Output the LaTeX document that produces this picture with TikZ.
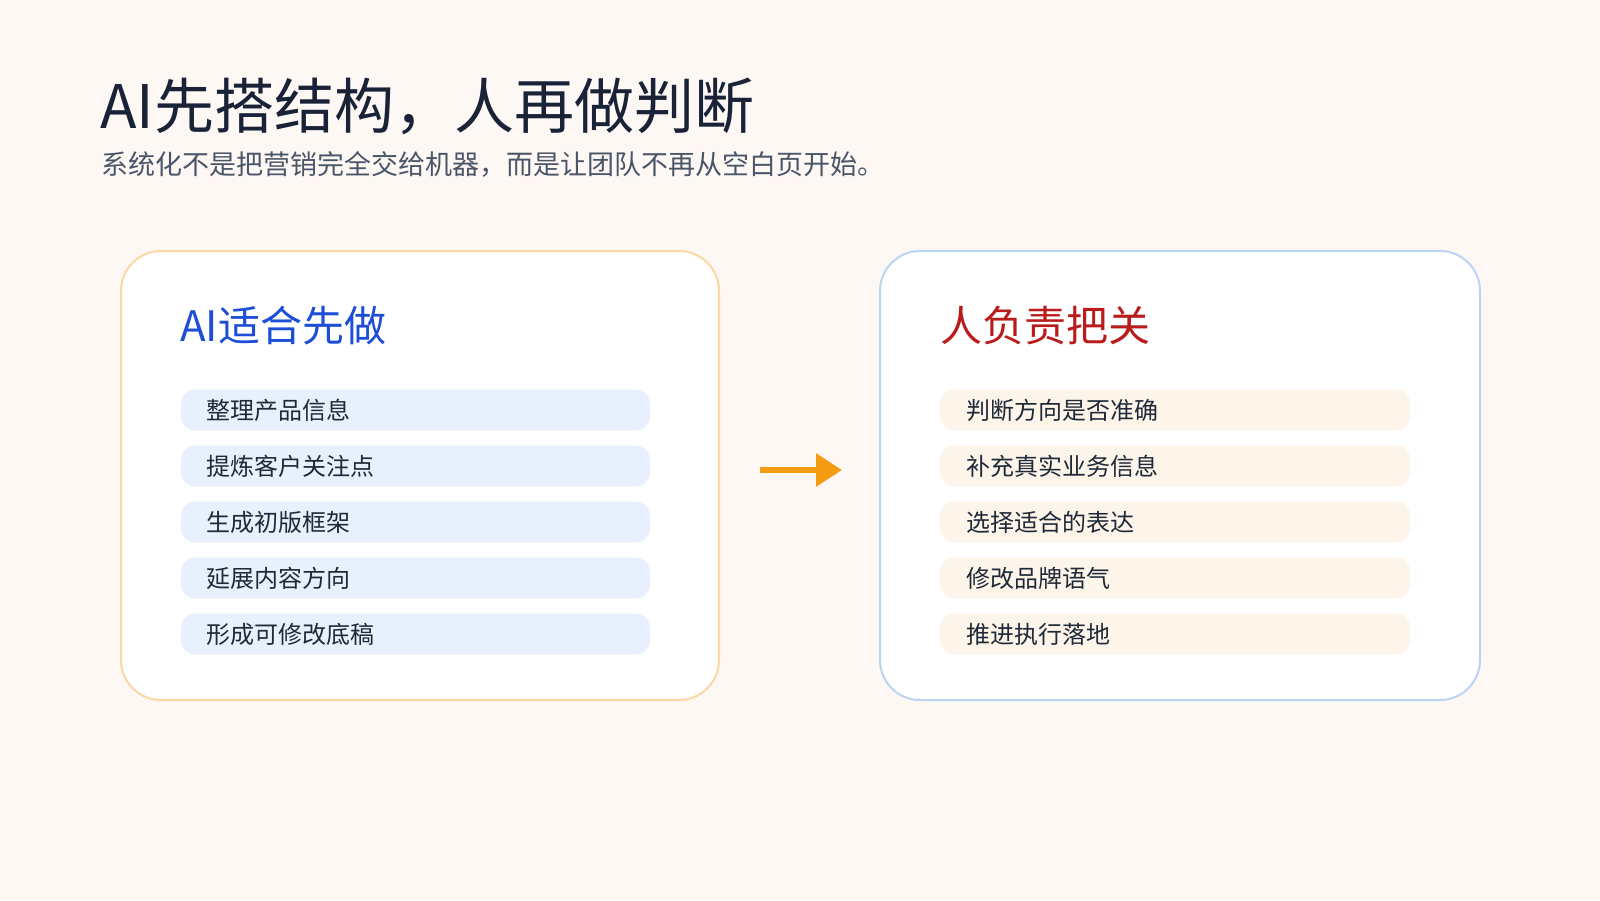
\documentclass[tikz,border=0pt]{standalone}
\usepackage{fontspec}
\setmainfont{Noto Sans CJK SC}
\usetikzlibrary{arrows.meta}
\definecolor{bg}{HTML}{FDF8F4}
\definecolor{ttl}{HTML}{1A2238}
\definecolor{sub}{HTML}{4A5568}
\definecolor{obrd}{HTML}{FCD6A4}
\definecolor{bbrd}{HTML}{BCD4F4}
\definecolor{hblue}{HTML}{1D4ED8}
\definecolor{hred}{HTML}{B91C1C}
\definecolor{pblue}{HTML}{E8F0FD}
\definecolor{porg}{HTML}{FDF4EA}
\definecolor{itxt}{HTML}{1F2937}
\definecolor{arr}{HTML}{F39C12}
\tikzset{
 card/.style={draw=#1,line width=1pt,fill=white,rounded corners=20pt},
 pill/.style={fill=#1,rounded corners=7pt},
 item/.style={anchor=west,text=itxt,font=\fontsize{12}{14}\selectfont,inner sep=0},
 head/.style={anchor=west,text=#1,font=\fontsize{21}{25}\selectfont,inner sep=0}
}
\begin{document}
\begin{tikzpicture}[x=0.5pt,y=-0.5pt]
\fill[bg] (0,0) rectangle (1600,900);
\useasboundingbox (0,0) rectangle (1600,900);
\node[anchor=base west,inner sep=0,text=ttl,font=\fontsize{30}{34}\selectfont] (title) at (100,128) {AI先搭结构，人再做判断};
\node[anchor=base west,inner sep=0,text=sub,font=\fontsize{13.5}{16}\selectfont] (subt) at (101,174) {系统化不是把营销完全交给机器，而是让团队不再从空白页开始。};
\draw[card=obrd] (121,251) rectangle (719,700);
\draw[card=bbrd] (880,251) rectangle (1480,700);
\node[head=hblue] (hl) at (180,326) {AI适合先做};
\node[head=hred] (hr) at (940,326) {人负责把关};
\foreach \t [count=\i] in {整理产品信息,提炼客户关注点,生成初版框架,延展内容方向,形成可修改底稿}{
  \pgfmathsetmacro\yy{410+56*(\i-1)}
  \fill[pill=pblue] (181,\yy-20.5) rectangle (650,\yy+20.5);
  \node[item] (l\i) at (206,\yy) {\t};
}
\foreach \t [count=\i] in {判断方向是否准确,补充真实业务信息,选择适合的表达,修改品牌语气,推进执行落地}{
  \pgfmathsetmacro\yy{410+56*(\i-1)}
  \fill[pill=porg] (940,\yy-20.5) rectangle (1410,\yy+20.5);
  \node[item] (r\i) at (966,\yy) {\t};
}
\coordinate (a1) at (760,470);
\coordinate (a2) at (842,470);
\draw[arr,line width=3pt,-{Triangle[length=13pt,width=16pt]}] (a1) -- (a2);
\end{tikzpicture}
\end{document}
